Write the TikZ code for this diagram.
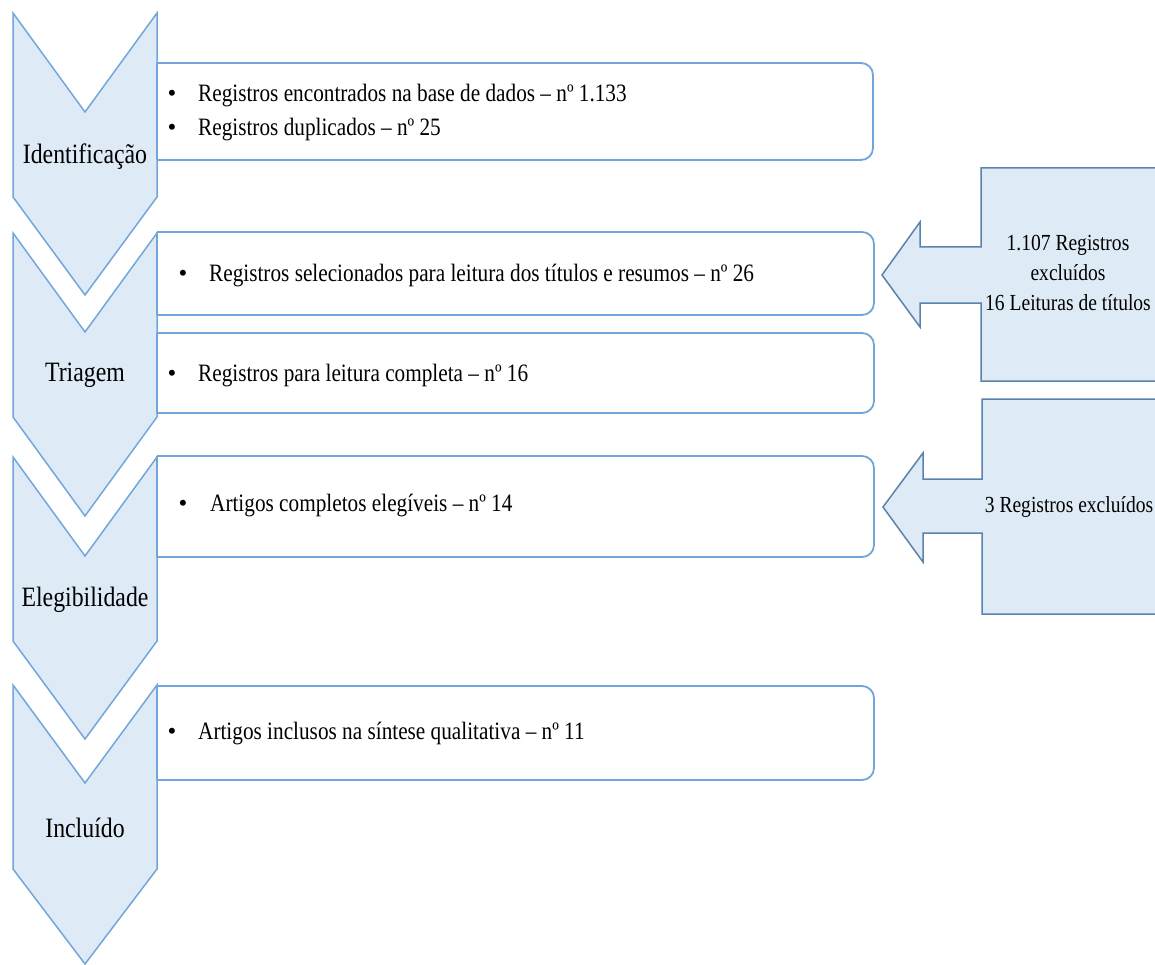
\documentclass[tikz,border=0pt]{standalone}
\usepackage{fontspec}
\newfontfamily\diagfont{Liberation Serif}
\definecolor{chevfill}{HTML}{DEEBF7}
\definecolor{chevline}{HTML}{72A6DA}
\definecolor{boxline}{HTML}{72A6DA}
\definecolor{callline}{HTML}{5B82AD}
\tikzset{
  chev/.style={fill=chevfill, draw=chevline, line width=1.5pt, line join=miter},
  itembox/.style={fill=white, draw=boxline, line width=1.8pt, rounded corners=12pt},
  itemedge/.style={draw=boxline, line width=1.8pt},
  callshape/.style={fill=chevfill, draw=callline, line width=1.5pt, line join=miter},
  narrow/.style={xscale=0.85, transform shape},
  stagelabel/.style={narrow, font=\diagfont\fontsize{28}{32}\selectfont, inner sep=0pt},
  itemtext/.style={narrow, font=\diagfont\fontsize{25}{34}\selectfont, inner sep=0pt, anchor=base west},
  bulletmark/.style={font=\diagfont\fontsize{25}{34}\selectfont, inner sep=0pt, anchor=base},
  calltext/.style={narrow, font=\diagfont\fontsize{23}{30}\selectfont, align=center, inner sep=0pt},
}
\begin{document}
\begin{tikzpicture}[x=1pt,y=-1pt]
\useasboundingbox (0,0) rectangle (1155,965);
% chevrons
\draw[chev] (13,13) -- (85,112) -- (157,13) -- (157,197) -- (85,295) -- (13,197) -- cycle;
\draw[chev] (13,233) -- (85,332) -- (157,233) -- (157,417) -- (85,516) -- (13,417) -- cycle;
\draw[chev] (13,457) -- (85,556) -- (157,457) -- (157,641) -- (85,739) -- (13,641) -- cycle;
\draw[chev] (13,685) -- (85,783) -- (157,685) -- (157,869) -- (85,964) -- (13,869) -- cycle;
\node[stagelabel] (s1) at (85,157) {Identificação};
\node[stagelabel] (s2) at (85,375) {Triagem};
\node[stagelabel] (s3) at (85,600) {Elegibilidade};
\node[stagelabel] (s4) at (85,828) {Incluído};
% item boxes
\draw[itembox] (157,63) -- (873,63) -- (873,160) -- (157,160);
\draw[itemedge] (157,63) -- (157,160);
\draw[itembox] (157,232) -- (874,232) -- (874,315) -- (157,315);
\draw[itemedge] (157,232) -- (157,315);
\draw[itembox] (157,333) -- (874,333) -- (874,413) -- (157,413);
\draw[itemedge] (157,333) -- (157,413);
\draw[itembox] (157,456) -- (874,456) -- (874,557) -- (157,557);
\draw[itemedge] (157,456) -- (157,557);
\draw[itembox] (157,686) -- (874,686) -- (874,780) -- (157,780);
\draw[itemedge] (157,686) -- (157,780);
% item texts
\node[bulletmark] (b1a) at (172,102) {•};
\node[itemtext] (t1a) at (198,102) {Registros encontrados na base de dados – nº 1.133};
\node[bulletmark] (b1b) at (172,136) {•};
\node[itemtext] (t1b) at (198,136) {Registros duplicados – nº 25};
\node[bulletmark] (b2a) at (183,282) {•};
\node[itemtext] (t2a) at (209,282) {Registros selecionados para leitura dos títulos e resumos – nº 26};
\node[bulletmark] (b2b) at (172,381) {•};
\node[itemtext] (t2b) at (198,381) {Registros para leitura completa – nº 16};
\node[bulletmark] (b3) at (183,511) {•};
\node[itemtext] (t3) at (210,511) {Artigos completos elegíveis – nº 14};
\node[bulletmark] (b4) at (172,739) {•};
\node[itemtext] (t4) at (198,739) {Artigos inclusos na síntese qualitativa – nº 11};
% callouts
\draw[callshape] (981,168) -- (1160,168) -- (1160,381) -- (981,381) -- (981,303) -- (920,303) -- (920,327) -- (882,275) -- (920,222) -- (920,247) -- (981,247) -- cycle;
\node[calltext] (c1) at (1068,273) {1.107 Registros\\excluídos\\16 Leituras de títulos};
\draw[callshape] (982,399) -- (1160,399) -- (1160,614) -- (982,614) -- (982,533) -- (923,533) -- (923,562) -- (883,507) -- (923,453) -- (923,479) -- (982,479) -- cycle;
\node[calltext] (c2) at (1069,507) {3 Registros excluídos};
\end{tikzpicture}
\end{document}
